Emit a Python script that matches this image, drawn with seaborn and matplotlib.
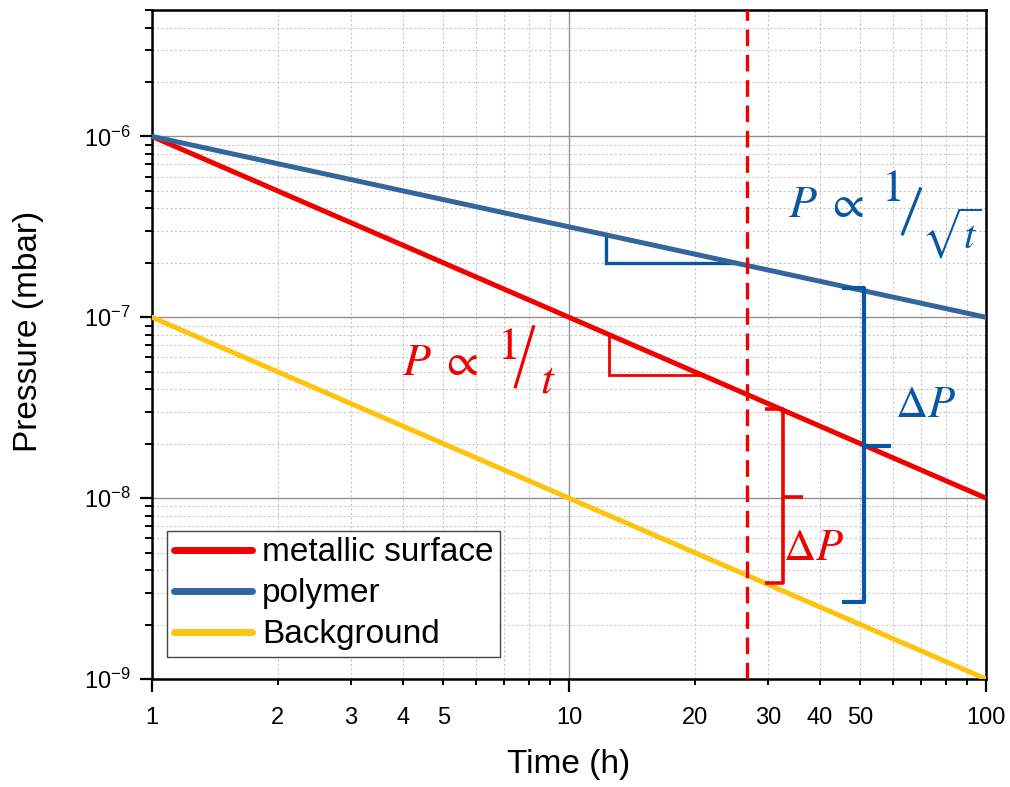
import numpy as np
import pandas as pd
import matplotlib
matplotlib.use("Agg")
import matplotlib.pyplot as plt
import matplotlib.ticker as mticker
import seaborn as sns

# ---- data ----
time_h = [1, 100]
metallic = [1e-6, 1e-8]
polymer = [1e-6, 1e-7]
background = [1e-7, 1e-9]
series_names = ["metallic surface", "polymer", "Background"]
colors = ["#F20000", "#33679B", "#FFC20E"]
t_cut = 26.7
x_major = [1, 10, 100]
x_minor = [2, 3, 4, 5, 6, 7, 8, 9, 20, 30, 40, 50, 60, 70, 80, 90]
x_minor_labels = {2: "2", 3: "3", 4: "4", 5: "5", 20: "20", 30: "30", 40: "40", 50: "50"}

df = pd.DataFrame({
    "Time": time_h * 3,
    "Pressure": metallic + polymer + background,
    "Series": [series_names[0]] * 2 + [series_names[1]] * 2 + [series_names[2]] * 2,
})

sns.set_theme(style="white")
plt.rcParams["font.family"] = ["Liberation Sans", "DejaVu Sans"]
plt.rcParams["text.color"] = "black"
plt.rcParams["axes.labelcolor"] = "black"
plt.rcParams["xtick.color"] = "black"
plt.rcParams["ytick.color"] = "black"

fig = plt.figure(figsize=(10.10, 7.87), dpi=100)
ax = fig.add_axes([152 / 1010, 1 - 679 / 787, (986 - 152) / 1010, (679 - 10) / 787])

sns.lineplot(data=df, x="Time", y="Pressure", hue="Series", hue_order=series_names,
             palette=colors, linewidth=3.6, ax=ax, zorder=4)
ax.set_xscale("log")
ax.set_yscale("log")
ax.set_xlim(1, 100)
ax.set_ylim(1e-9, 5e-6)

# ticks
ax.xaxis.set_major_locator(mticker.FixedLocator(x_major))
ax.xaxis.set_major_formatter(mticker.FixedFormatter([str(v) for v in x_major]))
ax.xaxis.set_minor_locator(mticker.FixedLocator(x_minor))
ax.xaxis.set_minor_formatter(mticker.FixedFormatter([x_minor_labels.get(v, "") for v in x_minor]))
ax.yaxis.set_major_locator(mticker.LogLocator(base=10, numticks=12))
ax.yaxis.set_minor_locator(mticker.LogLocator(base=10, subs=np.arange(2, 10), numticks=12))
ax.yaxis.set_minor_formatter(mticker.NullFormatter())

ax.tick_params(axis="x", which="major", direction="out", length=9.5, width=1.6,
               labelsize=17, pad=11, bottom=True)
ax.tick_params(axis="x", which="minor", direction="out", length=4.5, width=1.4,
               labelsize=17, pad=16, bottom=True)
ax.tick_params(axis="y", which="major", direction="out", length=8.5, width=1.6,
               labelsize=17, pad=7, left=True)
ax.tick_params(axis="y", which="minor", direction="out", length=5, width=1.4, left=True)

# grid
ax.grid(True, which="major", color="#909090", linewidth=1.0, linestyle="-", zorder=0)
ax.grid(True, which="minor", color="#c8c8c8", linewidth=0.8, linestyle=(0, (2, 2)), zorder=0)
ax.set_axisbelow(True)

for s in ax.spines.values():
    s.set_color("black")
    s.set_linewidth(1.8)
    s.set_visible(True)

ax.set_xlabel("Time (h)", fontsize=24)
ax.set_ylabel("Pressure (mbar)", fontsize=24)
ax.xaxis.set_label_coords(0.5, -0.105)
ax.yaxis.set_label_coords(-0.13, 0.52)

# vertical dashed line
ax.axvline(t_cut, color="#F20000", linewidth=2.4, linestyle=(0, (5, 2.6)), zorder=5)

# slope triangles
blue_c = "#0B56A4"
red_c = "#F20000"
ax.plot([12.3, 12.3, 25.0], [2.86e-7, 2.0e-7, 2.0e-7], color=blue_c, lw=2.4, zorder=3,
        solid_joinstyle="miter")
ax.plot([12.5, 12.5, 20.8], [8.0e-8, 4.8e-8, 4.8e-8], color=red_c, lw=2.0, zorder=3,
        solid_joinstyle="miter")

# braces
def brace(x_left, x_v, x_tip, y_top, y_mid, y_bot, color, lw):
    ax.plot([x_left, x_v, x_v, x_tip], [y_top, y_top, y_mid, y_mid],
            color=color, lw=lw, zorder=6, solid_capstyle="butt", solid_joinstyle="round")
    ax.plot([x_v, x_v, x_left], [y_mid, y_bot, y_bot], color=color, lw=lw, zorder=6,
            solid_capstyle="butt", solid_joinstyle="round")

brace(29.5, 32.6, 36.4, 3.1e-8, 1.01e-8, 3.39e-9, red_c, 2.6)
brace(45.1, 51.0, 59.2, 1.445e-7, 1.94e-8, 2.66e-9, blue_c, 3.0)

# proportionality labels, built from pieces (offsets in pixels -> points)
PX = 72 / 100.0

def prop_label(anchor, pieces, color):
    for txt, dx, dy, size in pieces:
        ax.annotate(txt, xy=anchor, xycoords="data", xytext=(dx * PX, dy * PX),
                    textcoords="offset points", ha="left", va="baseline",
                    color=color, fontsize=size, math_fontfamily="stix", zorder=7)

prop_label((3.98, 4.79e-8),
           [(r"$P$", 0, 0, 33), (r"$\propto$", 38, 0, 33), (r"$1$", 95, 16, 33),
            (r"$t$", 138, -17, 33)], red_c)
ax.plot([7.42, 8.24], [4.05e-8, 9.03e-8], color=red_c, lw=2.3, zorder=7,
        solid_capstyle="butt")
prop_label((33.5, 3.57e-7),
           [(r"$P$", 0, 0, 33), (r"$\propto$", 38, 0, 33), (r"$1$", 93, 16, 33),
            (r"$\sqrt{t}$", 133, -31, 29)], blue_c)
ax.plot([62.9, 69.8], [2.84e-7, 5.22e-7], color=blue_c, lw=2.3, zorder=7,
        solid_capstyle="butt")

ax.text(71.8, 3.27e-8, r"$\Delta P$", color=blue_c, fontsize=32,
        math_fontfamily="stix", ha="center", va="center", zorder=7)
ax.text(38.5, 5.3e-9, r"$\Delta P$", color=red_c, fontsize=32,
        math_fontfamily="stix", ha="center", va="center", zorder=7)

# legend
handles, labels = ax.get_legend_handles_labels()
leg = ax.legend(handles, labels, loc="lower left", bbox_to_anchor=(0.018, 0.033),
                fontsize=24, frameon=True, fancybox=False, edgecolor="#444444",
                framealpha=1, handlelength=2.35, handletextpad=0.3, borderpad=0.2,
                labelspacing=0.3, borderaxespad=0)
leg.get_frame().set_linewidth(1.0)
for ln in leg.get_lines():
    ln.set_linewidth(5)

fig.savefig("out.png", dpi=100)
